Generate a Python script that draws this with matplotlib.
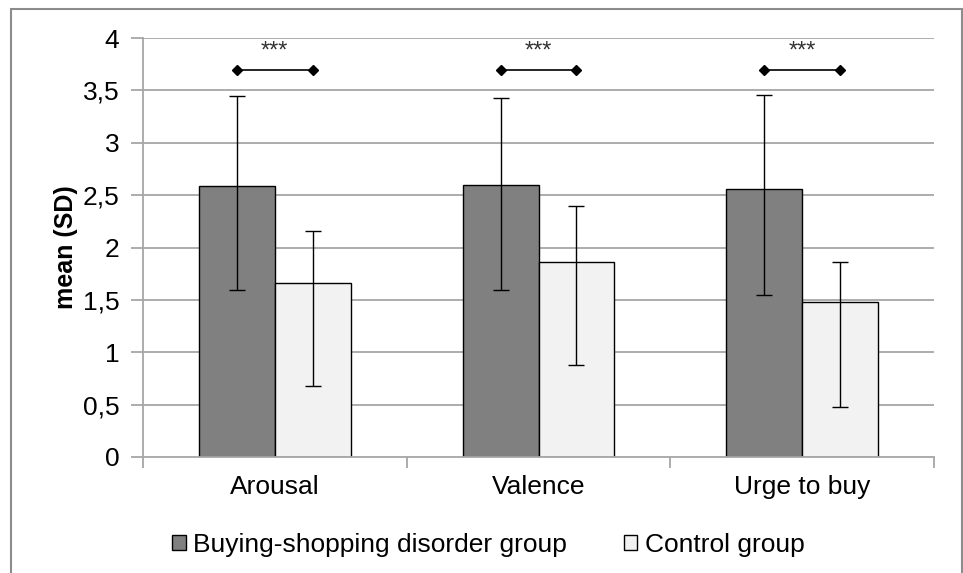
import matplotlib.pyplot as plt
import numpy as np
from matplotlib.patches import Rectangle

plt.rcParams['font.family'] = ['Liberation Sans', 'DejaVu Sans']

categories = ['Arousal', 'Valence', 'Urge to buy']
groups = ['Buying-shopping disorder group', 'Control group']

bsd_mean = [2.59, 2.60, 2.56]
bsd_err_low = [1.00, 1.01, 1.01]
bsd_err_high = [0.86, 0.83, 0.90]

ctrl_mean = [1.66, 1.86, 1.48]
ctrl_err_low = [0.98, 0.98, 1.00]
ctrl_err_high = [0.50, 0.54, 0.38]

sig_labels = ['***', '***', '***']

fig = plt.figure(figsize=(9.63, 5.73), dpi=100)
ax = fig.add_axes([143 / 963, 1 - 457 / 573, (934 - 143) / 963, (457 - 38) / 573])

# outer frame of the picture (bottom edge lies outside)
fig.patches.append(Rectangle((11 / 963, -0.05), (962 - 11) / 963, 1.05 - 9 / 573,
                             transform=fig.transFigure, fill=False,
                             edgecolor='#8c8c8c', linewidth=1.5))

x = np.arange(len(categories))
w = 0.288
grid_c = '#a6a6a6'

for y in np.arange(0.5, 4.01, 0.5):
    ax.axhline(y, color=grid_c, linewidth=1.3, zorder=0)

ax.bar(x - w / 2, bsd_mean, w, color='#808080', edgecolor='black', linewidth=1,
       label=groups[0], zorder=2)
ax.bar(x + w / 2, ctrl_mean, w, color='#f2f2f2', edgecolor='black', linewidth=1,
       label=groups[1], zorder=2)
ax.errorbar(x - w / 2, bsd_mean, yerr=[bsd_err_low, bsd_err_high], fmt='none',
            ecolor='black', elinewidth=1, capsize=6, capthick=1, zorder=3)
ax.errorbar(x + w / 2, ctrl_mean, yerr=[ctrl_err_low, ctrl_err_high], fmt='none',
            ecolor='black', elinewidth=1, capsize=6, capthick=1, zorder=3)

for i, s in enumerate(sig_labels):
    ax.plot([x[i] - w / 2, x[i] + w / 2], [3.69, 3.69], color='black', linewidth=1.2,
            marker='D', markersize=5, zorder=4)
    ax.text(x[i], 3.87, s, ha='center', va='center', fontsize=17, color='#333333')

ax.set_xlim(-0.5, 2.5)
ax.set_ylim(0, 4)
ax.set_yticks(np.arange(0, 4.01, 0.5))
ax.set_yticklabels(['0', '0,5', '1', '1,5', '2', '2,5', '3', '3,5', '4'])
ax.set_xticks(x)
ax.set_xticklabels(categories)
ax.set_xticks([-0.5, 0.5, 1.5, 2.5], minor=True)
ax.tick_params(axis='x', which='major', length=0, pad=13, labelsize=19)
ax.tick_params(axis='x', which='minor', length=8, color=grid_c, width=1.3)
ax.tick_params(axis='y', length=9, color=grid_c, width=1.3, pad=8, labelsize=19)
ax.set_ylabel('mean (SD)', fontsize=18, fontweight='bold', labelpad=3)

for side in ['top', 'right']:
    ax.spines[side].set_visible(False)
for side in ['left', 'bottom']:
    ax.spines[side].set_color(grid_c)
    ax.spines[side].set_linewidth(1.3)

ax.legend(loc='upper center', bbox_to_anchor=(0.437, -0.125), ncol=2, frameon=False,
          fontsize=19, handlelength=0.5, handleheight=0.5, handletextpad=0.3,
          columnspacing=2.15)

fig.savefig('out.png', dpi=100)
